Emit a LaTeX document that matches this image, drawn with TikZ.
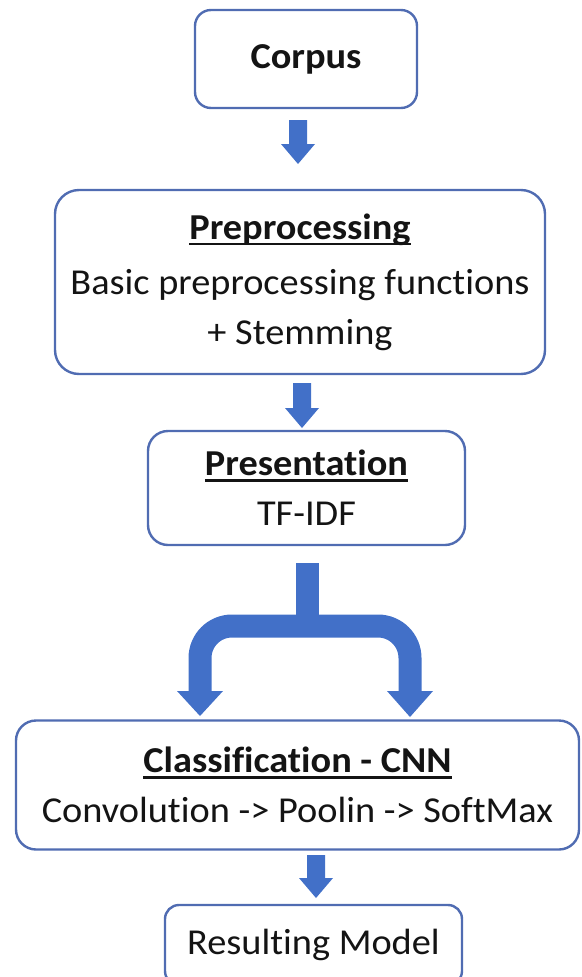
\documentclass[tikz,border=0pt]{standalone}
\usepackage{fontspec}
\setmainfont{Carlito}[FakeStretch=1.05, Ligatures=NoCommon]
\usetikzlibrary{calc}
\definecolor{boxc}{RGB}{80,108,178}
\definecolor{arrc}{RGB}{66,112,200}
\definecolor{txtc}{RGB}{20,20,20}
\newcommand\myul[1]{\setbox0\hbox{#1}\rlap{\color{txtc}\rule[-6pt]{\wd0}{2.4pt}}\box0}
\tikzset{
  box/.style={draw=boxc, line width=2.4pt, rounded corners=16pt, fill=white, inner sep=0pt,
    align=center, text=txtc, font=\fontsize{36.5}{50}\selectfont},
  dnarrow/.style={to path={let \p1=(\tikztostart), \p2=(\tikztotarget) in
    (\x1-9pt,\y1) -- (\x1+9pt,\y1) -- (\x1+9pt,\y2+20pt) -- (\x1+17pt,\y2+20pt) -- (\x1,\y2)
    -- (\x1-17pt,\y2+20pt) -- (\x1-9pt,\y2+20pt) -- cycle}},
  blockfill/.style={fill=arrc, draw=none},
  splitline/.style={draw=arrc, line width=23pt},
}
\begin{document}
\begin{tikzpicture}[x=1pt,y=-1pt]
\useasboundingbox (0,0) rectangle (581,977);
\clip (0,0) rectangle (581,977);
% boxes
\node[box, minimum width=222pt, minimum height=98pt] (corpus) at (306,59) {\textbf{Corpus}};
\node[box, minimum width=490pt, minimum height=184pt, rounded corners=24pt] (prep) at (300,282)
  {\myul{\textbf{Preprocessing}}\\[5pt]Basic preprocessing functions\\+ Stemming};
\node[box, minimum width=317pt, minimum height=114pt, rounded corners=20pt] (pres) at (306.5,488)
  {\myul{\textbf{Presentation}}\\TF-IDF};
\node[box, minimum width=563pt, minimum height=129pt, rounded corners=20pt] (class) at (297.5,785)
  {\myul{\textbf{Classification - CNN}}\\Convolution -> Poolin -> SoftMax};
\node[box, minimum width=297pt, minimum height=80pt, rounded corners=14pt] (result) at (313.5,945)
  {\raisebox{-3pt}{Resulting Model}};
% arrow end points
\coordinate (a1s) at (298,120);
\coordinate (a1e) at (298,164);
\coordinate (a2s) at (302,383);
\coordinate (a2e) at (302,428);
\coordinate (a4s) at (316,855);
\coordinate (a4e) at (316,898);
\path[blockfill] (a1s) to[dnarrow] (a1e);
\path[blockfill] (a2s) to[dnarrow] (a2e);
\path[blockfill] (a4s) to[dnarrow] (a4e);
% split arrow
\coordinate (stemtop) at (307,563);
\coordinate (stemjoin) at (307,626);
\coordinate (lbr) at (200,691);
\coordinate (rbr) at (410,691);
\coordinate (ltip) at (200,716);
\coordinate (rtip) at (410,717);
\draw[splitline] (stemtop) -- (stemjoin);
\draw[splitline, rounded corners=32pt] (lbr) -- (lbr |- stemjoin) -- (rbr |- stemjoin) -- (rbr);
\fill[arrc] ($(lbr)+(-23,0)$) -- ($(lbr)+(23,0)$) -- (ltip) -- cycle;
\fill[arrc] ($(rbr)+(-23,0)$) -- ($(rbr)+(23,0)$) -- (rtip) -- cycle;
\end{tikzpicture}
\end{document}
